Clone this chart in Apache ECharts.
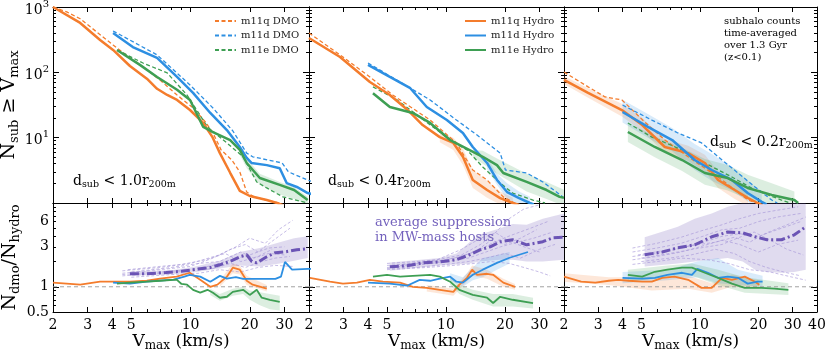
<!DOCTYPE html>
<html><head><meta charset="utf-8">
<style>html,body{margin:0;padding:0;background:#fff}#c{width:831px;height:353px}</style>
<script src="https://cdn.jsdelivr.net/npm/echarts@6/dist/echarts.min.js"></script>
</head><body><div id="c"></div>
<script>
// ---------------- DATA ----------------
// tick labels
const xTickLabels12 = [2,3,4,5,10,20,30];
const xTickLabels3 = [2,3,4,5,10,20,30,40];
const xMajorTicks = [2,3,4,5,10,20,30,40];
const xMinorTicks = [6,7,8,9];
const topYLabels = [10,100,1000];
const topYMajor = [1,10,100,1000];
const topYMinor = [2,3,4,5,6,7,8,9,20,30,40,50,60,70,80,90,200,300,400,500,600,700,800,900];
const botYLabels = [0.5,1,3,6];
const botYMajor = [1,10];
const botYMinor = [0.5,0.6,0.7,0.8,0.9,2,3,4,5,6,7,8,9];
const unityLine = [[2,1],[40,1]];

// Top panels: [Vmax, N(>=Vmax)]
const p1qHydro = [[2,1000],[2.75,570],[3.47,312],[4.04,220],[4.92,125],[6.0,80],[6.76,56],[7.61,45],[8.54,37.8],[9.94,26.5],[11.6,16.8],[12.9,10.3],[14.1,5.8],[15.9,2.9],[17.8,1.53],[20.0,1.28],[24.4,1.11],[27.5,1.0],[30,0.9]];
const p1qDmo = [[2,1000],[2.35,840],[2.75,660],[4.04,262],[4.92,167],[6.0,109],[7.0,76],[8.54,45],[10.3,28.5],[11.9,17.4],[13.0,11.8],[14.3,6.5],[16.2,4.55],[17.8,3.0],[19.3,1.47],[21,1.24],[24.4,1.11],[28,1.0],[31,0.9]];
const p1dHydro = [[4.04,400],[5.09,244],[6.76,166],[8.54,85],[10.3,48.5],[12.6,23.9],[15.3,13.1],[17.8,7.2],[19.3,4.9],[20.4,4.1],[24.4,3.8],[28.4,3.4],[30.8,2.02],[34.7,1.76],[39.4,1.42],[42,1.35]];
const p1dDmo = [[4.04,430],[6.76,185],[9.94,64],[13.0,28.5],[16.4,12.7],[19.3,5.8],[20.7,5.1],[29.2,4.1],[31.4,3.0],[39.4,2.25],[42,2.1]];
const p1eHydro = [[4.23,220],[5.53,130],[6.76,85],[8.54,54],[9.94,37.8],[11.6,14.6],[13.0,12.2],[15.9,9.2],[17.8,6.5],[19.3,4.1],[22.5,2.41],[28.4,1.89],[33.6,1.58],[39.4,1.11]];
const p1eDmo = [[4.23,220],[5.73,139],[7.61,98],[9.6,45],[12.2,14.6],[15.3,8.3],[18.5,5.1],[21.7,2.1],[24.4,1.7],[29.5,1.24],[39.4,1.0]];
const p1eBand = [[17.8,5.5,7.5],[19.3,3.4,4.8],[22.5,1.9,2.8],[28.4,1.35,2.1],[33.6,1.15,1.75],[39.4,0.95,1.25]];

const p2qHydro = [[2.0,336],[2.88,172],[4.09,71],[5.17,45],[6.33,27],[7.6,15.6],[9.3,10.2],[10.9,8.3],[12.2,5.1],[13.7,2.25],[16.2,1.58],[18.9,1.19],[21.9,1.0],[23.6,0.93]];
const p2qDmo = [[2.0,401],[2.88,185],[4.09,85],[5.35,45],[8.3,18.6],[11.3,8.3],[13.7,3.2],[16.2,2.25],[19.6,1.24],[22.4,1.0],[24,0.92]];
const p2dHydro = [[4.0,130],[5.17,85],[6.54,58],[7.98,29.5],[10.1,18.6],[12.2,11.8],[13.7,7.2],[16.2,4.1],[18.2,2.25],[20.5,1.47],[23.6,1.19],[26.8,1.0],[28,0.95]];
const p2dDmo = [[4.0,139],[5.83,71],[8.3,37.8],[11.3,18.6],[14.4,11],[18.9,5.8],[20.1,3.2],[25.8,2.88],[31.2,2.1],[39.5,1.24]];
const p2eHydro = [[4.24,48],[5.17,29.5],[6.77,23.9],[8.3,16.8],[10.5,9.2],[15.4,5.1],[18.2,3.8],[19.6,2.88],[25.8,2.1],[32.6,1.58],[38,1.24],[40,1.2]];
const p2eDmo = [[4.24,60],[5.63,37.8],[7.34,20.7],[9.0,13.1],[10.5,9.2],[12.8,6.5],[15.4,3.56],[18.9,2.02],[21.9,1.42],[27.8,1.11],[32,1.0]];
const p2qBand = [[9.3,8.5,12],[10.9,6.5,10],[12.2,3.8,6.8],[13.7,1.7,3.2],[16.2,1.2,2.2],[18.9,0.95,1.5],[21.9,0.85,1.2]];
const p2eBand = [[13.7,5,6.5],[15.4,4,6.3],[18.2,2.8,4.8],[25.8,1.5,2.8],[32.6,1.15,2.1],[40,0.9,1.6]];
const p2dBand = [[16.2,3.3,5],[18.2,1.9,2.8],[20.5,1.15,2.0],[23.6,0.95,1.5],[26.8,0.8,1.25]];

const p3qHydro = [[2.0,76.5],[2.66,48.5],[3.97,26.5],[5.05,15.6],[6.6,7.2],[8.7,5.8],[10.6,4.1],[12.4,2.25],[15.1,1.58],[17.7,1.19],[19.8,1.0],[21,0.92]];
const p3qDmo = [[2.0,101],[2.66,60],[3.25,42],[3.97,37.8],[5.2,17.4],[6.6,9.2],[8.7,5.1],[13.0,2.25],[17.7,1.11],[20.2,0.96]];
const p3dHydro = [[4.0,24.7],[5.4,14.6],[7.2,9.2],[9.4,4.55],[11.5,3.2],[14.6,2.25],[17.6,1.42],[20.8,1.04],[22,0.95]];
const p3dDmo = [[4.0,31.6],[5.66,18.6],[7.7,11.8],[10.2,8.3],[13.0,4.55],[15.7,2.88],[19.2,1.76],[23.4,1.11],[25,1.0]];
const p3eHydro = [[4.26,12.2],[5.86,7.2],[8.1,4.55],[10.6,2.88],[13.9,2.41],[17.6,1.7],[23.4,1.33],[30.6,1.11],[32,1.0]];
const p3eDmo = [[4.26,16.8],[5.66,10.2],[8.1,6.5],[10.6,4.1],[14.6,2.5],[19.2,1.58],[26.3,1.11],[29,1.0]];
const p3qBand = [[2,66,88],[2.66,41,57],[3.97,21,33],[5.05,12.5,20],[6.6,5.8,9.5],[8.7,4.4,7.5],[10.6,3,5.5],[12.4,1.7,3],[15.1,1.15,2.1],[17.7,0.9,1.5]];
const p3dBand = [[4.0,17,38],[5.4,10,23],[7.2,6.2,14],[9.4,3.2,8],[11.5,2.2,5.6],[14.6,1.55,3.6],[17.6,1.05,2.2],[20.8,0.8,1.5]];
const p3eBand = [[4.26,8.6,17],[5.86,5,10.5],[8.1,3.1,7],[10.6,1.9,4.7],[13.9,1.55,3.8],[17.6,1.15,2.7],[23.4,0.9,2.0],[30.6,0.8,1.5]];

// Bottom panels: [Vmax, Ndmo/Nhydro]
const r1q = [[2.0,1.12],[2.75,1.06],[3.47,1.15],[4.23,1.15],[4.92,1.15],[6.0,1.18],[7.0,1.25],[8.5,1.32],[9.9,1.47],[11.2,1.21],[12.6,1.0],[13.7,1.06],[15.3,1.32],[16.4,1.69],[17.8,1.6],[19.3,1.18],[20.7,1.06],[24.4,0.95]];
const r1d = [[4.04,1.12],[4.92,1.09],[6.0,1.15],[8.2,1.22],[9.3,1.32],[9.9,1.39],[11.2,1.32],[12.6,1.15],[14.1,1.35],[15.3,1.25],[17.0,1.3],[18.5,1.24],[21.7,1.24],[27.0,1.24],[28.8,1.32],[30.2,1.98],[32.8,1.6],[39.4,1.64],[42,1.64]];
const r1e = [[4.23,1.09],[4.92,1.12],[6.0,1.15],[7.0,1.18],[8.5,1.22],[9.0,1.08],[9.6,1.06],[10.3,0.92],[11.2,0.85],[12.2,0.92],[13.0,0.85],[14.1,0.74],[15.3,0.76],[16.4,0.87],[18.5,0.92],[20.0,0.80],[21.7,0.92],[23.0,0.74],[25.3,0.70],[28.4,0.66]];
const r1avg = [[4.92,1.43],[6.0,1.43],[7.5,1.48],[9.0,1.53],[10.3,1.6],[12.6,1.7],[14.1,1.83],[16.2,2.05],[18.0,2.3],[19.3,2.41],[20.5,2.0],[21.7,1.93],[24.4,2.28],[27.0,2.55],[30.5,2.62],[34.7,2.76],[39.4,2.85]];
const r1avgBand = [[4.92,1.35,1.52],[8,1.4,1.58],[10.3,1.48,1.72],[14.1,1.65,2.05],[17.8,1.8,2.6],[22.5,1.75,2.9],[28.4,1.9,3.4],[33.6,2.05,3.8],[39.4,2.2,4.0]];
const r1eBand = [[12.6,0.8,0.95],[14.1,0.68,0.82],[16.4,0.78,0.95],[18.5,0.82,1.0],[20,0.7,0.9],[22.5,0.6,0.86],[25.3,0.54,0.82],[28.4,0.52,0.78]];
const r1qBand = [[14.1,1.0,1.2],[16.4,1.45,1.9],[17.8,1.4,1.8],[19.3,1.05,1.35],[24.4,0.88,1.05]];
const r1hosts = [
  [[4.5,1.55],[7,1.7],[10,1.9],[14,2.4],[17,3.0],[20,3.8],[24,3.3],[28,4.8],[33,6.2]],
  [[4.5,1.45],[7,1.6],[10,1.75],[13,2.2],[16,2.8],[19,3.2],[22,2.6],[26,3.5],[32,5.0]],
  [[4.5,1.4],[7,1.5],[10,1.6],[13,1.8],[16,2.1],[20,2.4],[25,2.9],[30,3.0]],
  [[4.5,1.35],[7,1.45],[10,1.55],[13,1.65],[16,1.9],[19,1.7],[23,2.0],[27,2.2],[32,2.3]],
  [[5,1.3],[8,1.4],[11,1.45],[14,1.6],[18,1.5],[22,1.7],[27,1.8],[33,1.75]],
  [[5,1.5],[8,1.7],[11,1.9],[14,2.0],[18,2.6],[21,2.2],[25,2.5],[30,2.4]],
  [[4.8,1.6],[7,1.75],[9,1.85],[12,2.1],[15,2.5],[18,2.0],[22,2.3],[26,2.8]]
];

const r2q = [[2.02,1.28],[2.56,1.15],[2.98,1.09],[3.51,1.12],[4.09,1.21],[4.77,1.15],[5.83,1.12],[6.77,1.0],[7.98,0.97],[9.3,0.92],[10.9,0.87],[11.7,1.06],[12.8,1.28],[13.6,1.6],[14.4,1.39],[16.2,1.43],[17.4,1.39],[19.6,1.12],[22.5,1.0]];
const r2d = [[4.0,1.12],[5.17,1.09],[6.33,1.03],[7.34,1.21],[8.3,1.18],[9.3,1.25],[10.5,1.32],[11.3,1.15],[12.2,1.12],[13.7,1.39],[15.4,1.6],[18.2,1.93],[21.1,2.22],[26.2,2.6]];
const r2e = [[4.24,1.32],[5.0,1.39],[5.83,1.32],[6.77,1.35],[8.3,1.39],[9.3,1.32],[10.5,1.15],[11.7,0.92],[13.7,0.80],[16.2,0.74],[17.4,0.64],[18.9,0.76],[21.9,0.70],[27.8,0.64]];
const r2avg = [[5.17,1.73],[6.33,1.78],[7.6,1.93],[9.3,1.98],[11.3,2.1],[13.2,2.41],[14.9,2.76],[16.8,3.0],[18.9,3.45],[21.9,3.64],[25.8,3.17],[31.2,3.45],[35,3.84],[40,3.9]];
const r2avgBand = [[5.17,1.55,1.95],[9.3,1.8,2.2],[11.3,1.85,2.5],[13.2,1.9,3.4],[14.9,2.0,4.2],[18.9,2.1,5.0],[21.9,2.1,5.6],[25.8,2.0,5.5],[31.2,2.0,6.5],[40,2.1,7.5]];
const r2qBand = [[7.98,0.88,1.05],[9.3,0.83,1.0],[10.9,0.78,0.95],[12.8,1.15,1.45],[13.6,1.35,1.8],[16.2,1.25,1.6],[19.6,1.0,1.25],[22.5,0.92,1.08]];
const r2dBand = [[10.5,1.2,1.45],[12.2,1.0,1.3],[13.7,1.2,1.7],[15.4,1.3,2.2],[18.2,1.6,2.4],[21.1,1.9,2.6]];
const r2eBand = [[10.5,1.05,1.3],[11.7,0.82,1.05],[13.7,0.7,0.92],[17.4,0.58,0.82],[21.9,0.58,0.82],[27.8,0.55,0.74]];
const r2hosts = [
  [[5,1.9],[7,2.0],[9,2.1],[12,2.4],[15,3.2],[18,4.5],[21,6.5],[25,8.5],[30,9.5]],
  [[5,1.8],[7,1.9],[9,2.0],[12,2.3],[15,2.8],[18,3.5],[22,4.2],[27,5.0],[33,6.0]],
  [[5,1.7],[7,1.8],[10,2.0],[13,2.2],[16,2.6],[19,3.0],[23,3.4],[28,3.8],[35,4.5]],
  [[5,1.65],[7,1.7],[10,1.85],[13,2.0],[16,2.2],[20,2.5],[24,2.2],[30,2.8],[36,3.2]],
  [[5,1.6],[8,1.7],[11,1.8],[14,1.9],[17,2.0],[21,1.9],[25,1.7],[30,1.5],[34,1.35]],
  [[5.5,1.75],[8,1.95],[11,2.2],[14,2.6],[17,3.6],[20,3.2],[24,3.8],[29,4.8]],
  [[6,1.85],[9,2.1],[12,2.8],[15,3.8],[18,4.4],[21,3.5],[25,3.0],[30,2.6]]
];

const r3q = [[2.0,1.32],[2.45,1.15],[2.9,1.12],[3.4,1.18],[3.8,1.21],[4.3,1.18],[5.05,1.15],[5.66,1.15],[6.4,1.28],[7.4,1.32],[8.7,1.21],[10.2,0.97],[11.5,0.97],[13.0,1.28],[14.6,1.21],[17.0,1.32],[19.2,1.15],[20.2,1.06]];
const r3d = [[4.0,1.28],[5.05,1.25],[5.86,1.28],[6.8,1.39],[8.1,1.47],[9.1,1.39],[9.7,1.64],[11.0,1.47],[12.4,1.28],[13.9,1.32],[15.7,1.28],[17.6,1.09],[19.8,1.15],[21,1.15]];
const r3e = [[4.26,1.39],[5.05,1.32],[5.86,1.51],[6.8,1.6],[8.1,1.69],[9.1,1.69],[10.6,1.47],[12.4,1.28],[14.6,1.09],[17.0,0.97],[20.8,0.97],[24.1,0.95],[28.5,0.92]];
const r3avg = [[5.2,2.41],[6.4,2.6],[7.7,2.92],[9.4,3.17],[11.5,3.95],[13.9,4.5],[16.6,4.4],[19.2,3.95],[22.1,3.64],[26.3,3.64],[30.6,4.17],[35,5.2]];
const r3avgBand = [[5.2,1.75,3.9],[7.7,1.9,5.2],[9.4,2.0,6.5],[11.5,2.1,7.5],[13.9,2.2,9],[16.6,2.0,10],[19.2,1.6,10],[22.1,1.5,10],[26.3,1.47,10],[30.6,1.5,10],[35,1.6,10]];
const r3qBand = [[2,1.15,1.45],[3.4,1.05,1.3],[5.66,0.9,1.3],[8.7,0.95,1.35],[11.5,0.85,1.1],[14.6,1.0,1.4],[20.2,0.95,1.2]];
const r3dBand = [[4,1.1,1.5],[6.8,1.2,1.6],[9.7,1.3,2.0],[12.4,1.1,2.2],[15.7,1.05,1.6],[21,1.0,1.35]];
const r3eBand = [[4.26,1.15,1.6],[6.8,1.3,1.8],[9.1,1.35,1.9],[12.4,1.05,1.6],[17,0.85,1.3],[28.5,0.8,1.1]];
const r3hosts = [
  [[4.5,2.9],[6,3.3],[8,3.9],[10,4.6],[13,5.5],[16,6.5],[20,7.5],[25,8.2],[32,9.0]],
  [[4.5,2.6],[6,2.9],[8,3.3],[10,3.9],[13,4.8],[16,5.0],[20,6.0],[25,6.8],[33,7.5]],
  [[4.5,2.3],[6,2.5],[8,2.9],[10,3.3],[13,4.0],[16,4.3],[20,4.0],[25,4.8],[33,6.0]],
  [[4.5,2.1],[6,2.3],[8,2.6],[10,3.0],[13,3.6],[16,3.2],[20,2.6],[25,3.2],[32,3.6]],
  [[5,2.0],[7,2.2],[9,2.4],[12,2.8],[15,2.5],[18,2.0],[22,1.7],[27,1.5],[33,1.35]],
  [[4.8,2.4],[6.5,2.7],[9,3.1],[12,3.4],[15,3.9],[18,3.4],[22,4.4],[27,5.3],[35,6.8]],
  [[5,2.2],[7,2.5],[10,2.9],[13,3.2],[16,3.9],[19,4.5],[23,3.6],[28,2.8],[34,2.4]],
  [[4.5,1.85],[6,2.0],[8,2.2],[11,2.1],[14,1.9],[18,1.6],[23,1.5],[30,1.3],[35,1.2]]
];

// ---------------- STYLE ----------------
const FONT = 'DejaVu Serif';
const COL = {q:'#f47c2c', d:'#2d8fe2', e:'#3e9f53', p:'#6b54b5', host:'#a596d8'};
const BAND = {q:'rgba(244,124,44,0.18)', d:'rgba(45,143,226,0.18)', e:'rgba(62,159,83,0.18)', p:'rgba(112,90,180,0.22)'};
const lg = Math.log10;
const X_MIN = lg(2), X_MAX = lg(40);

const grids = [
  {left:53, top:7, width:256, height:196},
  {left:309, top:7, width:255, height:196},
  {left:564, top:7, width:253, height:196},
  {left:53, top:203, width:256, height:109},
  {left:309, top:203, width:255, height:109},
  {left:564, top:203, width:253, height:109}
].map(g => Object.assign({outerBoundsMode:'none', containLabel:false, show:false}, g));

function fmtNum(v){ return String(Math.round(v*10)/10); }

const xAxes = [], yAxes = [];
for (let g = 0; g < 6; g++) {
  const bottomRow = g >= 3;
  const col = g % 3;
  const xl = bottomRow ? (col === 2 ? xTickLabels3 : xTickLabels12) : null;
  const defs = [
    ['bottom', xMajorTicks, 5, true, xl],
    ['bottom', xMinorTicks, 3, false, null],
    ['top', xMajorTicks, 5, true, null],
    ['top', xMinorTicks, 3, false, null]
  ];
  defs.forEach((d, k) => {
    const ax = {
      gridIndex:g, type:'value', min:X_MIN, max:X_MAX, position:d[0],
      axisLine:{show:d[3], onZero:false, lineStyle:{color:'#000', width:1}},
      splitLine:{show:false}, minorTick:{show:false}, axisPointer:{show:false},
      axisTick:{show:true, inside:true, length:d[2], customValues:d[1].map(lg), lineStyle:{color:'#000', width:1}},
      axisLabel: d[4] ? {show:true, customValues:d[4].map(lg), formatter:v => fmtNum(Math.pow(10, v)), margin:6, fontFamily:FONT, fontSize:14, color:'#000'} : {show:false}
    };
    if (k === 0 && bottomRow) {
      ax.name = '{m|V}{s|max}{m| (km/s)}';
      ax.nameLocation = 'middle';
      ax.nameGap = 16;
      ax.nameTextStyle = {color:'#000', fontFamily:FONT, rich:{
        m:{fontSize:17, lineHeight:20, verticalAlign:'top', fontFamily:FONT, color:'#000'},
        s:{fontSize:12, lineHeight:12, padding:[7,0,0,0], verticalAlign:'top', fontFamily:FONT, color:'#000'}}};
    }
    xAxes.push(ax);
  });
  const ymin = bottomRow ? lg(0.5) : 0, ymax = bottomRow ? 1 : 3;
  const maj = bottomRow ? botYMajor : topYMajor, mnr = bottomRow ? botYMinor : topYMinor;
  let yl = null, yfmt = null;
  if (col === 0) {
    if (bottomRow) { yl = botYLabels; yfmt = v => fmtNum(Math.pow(10, v)); }
    else { yl = topYLabels; yfmt = v => '{a|10}{b|' + Math.round(v) + '}'; }
  }
  const ydefs = [['left', maj, 6, true, yl], ['left', mnr, 3, false, null], ['right', maj, 6, true, null], ['right', mnr, 3, false, null]];
  ydefs.forEach((d, k) => {
    const ax = {
      gridIndex:g, type:'value', min:ymin, max:ymax, position:d[0],
      axisLine:{show:d[3], onZero:false, lineStyle:{color:'#000', width:1}},
      splitLine:{show:false}, minorTick:{show:false}, axisPointer:{show:false},
      axisTick:{show:true, inside:true, length:d[2], customValues:d[1].map(lg), lineStyle:{color:'#000', width:1}},
      axisLabel: d[4] ? {show:true, customValues:d[4].map(lg), formatter:yfmt, margin:4, fontFamily:FONT, fontSize:14, color:'#000',
        rich:{a:{fontSize:14, lineHeight:16, padding:[4,0,0,0], verticalAlign:'top', fontFamily:FONT, color:'#000'},
              b:{fontSize:10, lineHeight:10, verticalAlign:'top', fontFamily:FONT, color:'#000'}}} : {show:false}
    };
    if (k === 0 && col === 0) {
      ax.name = bottomRow ? '{m|N}{s|dmo}{m|/N}{s|hydro}' : '{m|N}{s|sub}{m| ≥ V}{s|max}';
      ax.nameLocation = 'middle';
      ax.nameRotate = 90;
      ax.nameGap = 30;
      ax.nameTextStyle = {color:'#000', fontFamily:FONT, rich:{
        m:{fontSize:19, lineHeight:22, verticalAlign:'top', fontFamily:FONT, color:'#000'},
        s:{fontSize:13, lineHeight:13, padding:[8,0,0,0], verticalAlign:'top', fontFamily:FONT, color:'#000'}}};
    }
    yAxes.push(ax);
  });
}

const series = [];
function addLine(g, name, arr, color, width, dash, z, opacity) {
  series.push({type:'line', name:name, xAxisIndex:g*4, yAxisIndex:g*4,
    data:arr.map(p => [lg(p[0]), lg(p[1])]), symbol:'none', showSymbol:false,
    lineStyle:{color:color, width:width, type:dash || 'solid', opacity:opacity == null ? 1 : opacity},
    itemStyle:{color:color}, z:z || 3, silent:true, animation:false, clip:true});
}
function addBand(g, arr, fill) {
  const d = arr.map(p => [lg(p[0]), lg(p[1]), lg(p[2])]);
  series.push({type:'custom', xAxisIndex:g*4, yAxisIndex:g*4, data:d, encode:{x:0, y:[1,2]},
    clip:true, silent:true, animation:false, z:1,
    renderItem:function(params, api){
      if (params.dataIndex !== 0) return null;
      const up = d.map(p => api.coord([p[0], p[2]]));
      const lo = d.map(p => api.coord([p[0], p[1]])).reverse();
      return {type:'polygon', shape:{points:up.concat(lo)}, style:{fill:fill}};
    }});
}
const DMO_DASH = [4,2.5];
addBand(0, p1eBand, BAND.e);
addLine(0, 'm11q DMO', p1qDmo, COL.q, 1.3, DMO_DASH);
addLine(0, 'm11d DMO', p1dDmo, COL.d, 1.3, DMO_DASH);
addLine(0, 'm11e DMO', p1eDmo, COL.e, 1.3, DMO_DASH);
addLine(0, 'm11q Hydro', p1qHydro, COL.q, 2.5);
addLine(0, 'm11d Hydro', p1dHydro, COL.d, 2.5);
addLine(0, 'm11e Hydro', p1eHydro, COL.e, 2.5);

addBand(1, p2qBand, BAND.q); addBand(1, p2eBand, BAND.e); addBand(1, p2dBand, BAND.d);
addLine(1, 'm11q DMO', p2qDmo, COL.q, 1.3, DMO_DASH);
addLine(1, 'm11d DMO', p2dDmo, COL.d, 1.3, DMO_DASH);
addLine(1, 'm11e DMO', p2eDmo, COL.e, 1.3, DMO_DASH);
addLine(1, 'm11q Hydro', p2qHydro, COL.q, 2.5);
addLine(1, 'm11d Hydro', p2dHydro, COL.d, 2.5);
addLine(1, 'm11e Hydro', p2eHydro, COL.e, 2.5);

addBand(2, p3qBand, BAND.q); addBand(2, p3dBand, BAND.d); addBand(2, p3eBand, BAND.e);
addLine(2, 'm11q DMO', p3qDmo, COL.q, 1.3, DMO_DASH);
addLine(2, 'm11d DMO', p3dDmo, COL.d, 1.3, DMO_DASH);
addLine(2, 'm11e DMO', p3eDmo, COL.e, 1.3, DMO_DASH);
addLine(2, 'm11q Hydro', p3qHydro, COL.q, 2.5);
addLine(2, 'm11d Hydro', p3dHydro, COL.d, 2.5);
addLine(2, 'm11e Hydro', p3eHydro, COL.e, 2.5);

const bottomSets = [
  {g:3, q:r1q, d:r1d, e:r1e, avg:r1avg, avgBand:r1avgBand, hosts:r1hosts, bands:[[r1eBand,'e'],[r1qBand,'q']]},
  {g:4, q:r2q, d:r2d, e:r2e, avg:r2avg, avgBand:r2avgBand, hosts:r2hosts, bands:[[r2qBand,'q'],[r2dBand,'d'],[r2eBand,'e']]},
  {g:5, q:r3q, d:r3d, e:r3e, avg:r3avg, avgBand:r3avgBand, hosts:r3hosts, bands:[[r3qBand,'q'],[r3dBand,'d'],[r3eBand,'e']]}
];
bottomSets.forEach(s => {
  addBand(s.g, s.avgBand, BAND.p);
  s.bands.forEach(b => addBand(s.g, b[0], BAND[b[1]]));
  addLine(s.g, 'unity', unityLine, '#999', 0.9, [4,3], 2);
  s.hosts.forEach(h => addLine(s.g, 'host', h, COL.host, 0.8, [3,2], 2, 0.8));
  addLine(s.g, 'avg', s.avg, COL.p, 3, [9,3,2,3], 4);
  addLine(s.g, 'm11q ratio', s.q, COL.q, 1.8, 'solid', 5);
  addLine(s.g, 'm11d ratio', s.d, COL.d, 1.8, 'solid', 5);
  addLine(s.g, 'm11e ratio', s.e, COL.e, 1.8, 'solid', 5);
});

function richSub(F, S, L, P, color) {
  return {m:{fontSize:F, lineHeight:L, verticalAlign:'top', fontFamily:FONT, fill:color},
          s:{fontSize:S, lineHeight:S, padding:[P,0,0,0], verticalAlign:'top', fontFamily:FONT, fill:color}};
}
const graphic = [
  {type:'text', x:73, y:174, z:50, style:{text:'{m|d}{s|sub}{m| < 1.0r}{s|200m}', rich:richSub(14,9.5,17,6,'#000'), align:'left', verticalAlign:'top'}},
  {type:'text', x:328, y:174, z:50, style:{text:'{m|d}{s|sub}{m| < 0.4r}{s|200m}', rich:richSub(14,9.5,17,6,'#000'), align:'left', verticalAlign:'top'}},
  {type:'text', x:710, y:135, z:50, style:{text:'{m|d}{s|sub}{m| < 0.2r}{s|200m}', rich:richSub(14,9.5,17,6,'#000'), align:'left', verticalAlign:'top'}},
  {type:'text', x:724, y:15.5, z:50, style:{text:'subhalo counts\ntime-averaged\nover 1.3 Gyr\n(z<0.1)', fontFamily:FONT, fontSize:10, lineHeight:12, fill:'#000', align:'left', verticalAlign:'top'}},
  {type:'text', x:375, y:215.5, z:50, style:{text:'average suppression\nin MW-mass hosts', fontFamily:FONT, fontSize:13, lineHeight:15, fill:'#7462bd', align:'left', verticalAlign:'top'}}
];

const legendCommon = {orient:'vertical', padding:0, itemWidth:21, itemHeight:10, itemGap:4.5,
  textStyle:{fontFamily:FONT, fontSize:10, color:'#222'}, itemStyle:{opacity:0, borderWidth:0}, selectedMode:false};
const option = {
  animation:false,
  backgroundColor:'#fff',
  grid:grids,
  xAxis:xAxes,
  yAxis:yAxes,
  series:series,
  graphic:graphic,
  legend:[
    Object.assign({left:214, top:16, data:['m11q DMO','m11d DMO','m11e DMO']}, legendCommon),
    Object.assign({left:464, top:16, data:['m11q Hydro','m11d Hydro','m11e Hydro']}, legendCommon)
  ]
};
const chart = echarts.init(document.getElementById('c'), null, {renderer:'canvas'});
chart.setOption(option);
</script>
</body></html>
